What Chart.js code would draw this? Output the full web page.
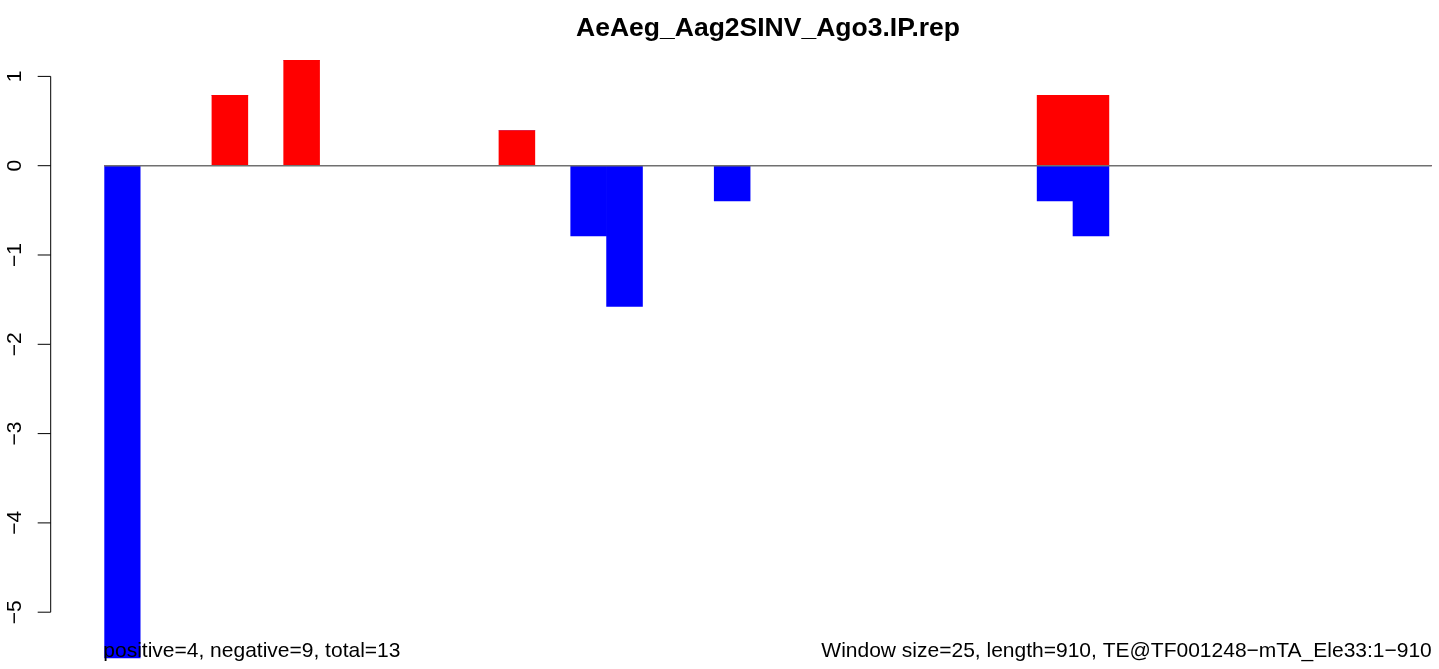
<!DOCTYPE html>
<html>
<head>
<meta charset="utf-8">
<title>AeAeg_Aag2SINV_Ago3.IP.rep</title>
<script src="https://cdn.jsdelivr.net/npm/chart.js@4/dist/chart.umd.min.js"></script>
<style>
  html, body { margin: 0; padding: 0; background: #ffffff; }
  #wrap { width: 1439px; height: 669px; position: relative; }
  canvas { display: block; }
</style>
</head>
<body>
<div id="wrap"><canvas id="chart" width="1439" height="669"></canvas></div>
<script>
// Window start positions along the element (window size 25, length 910)
const windowStarts = [1, 26, 51, 76, 101, 126, 151, 176, 201, 226, 251, 276, 301, 326, 351, 376, 401, 426, 451,
                      476, 501, 526, 551, 576, 601, 626, 651, 676, 701, 726, 751, 776, 801, 826, 851, 876, 901];

// Sense-strand signal per window (red, above zero)
const senseValues = [0, 0, 0, 0.787, 0, 1.181, 0, 0, 0, 0, 0, 0.394, 0, 0, 0, 0, 0, 0, 0,
                     0, 0, 0, 0, 0, 0, 0, 0.787, 0.787, 0, 0, 0, 0, 0, 0, 0, 0, 0];

// Antisense-strand signal per window (blue, below zero)
const antisenseValues = [-5.512, 0, 0, 0, 0, 0, 0, 0, 0, 0, 0, 0, 0, -0.787, -1.575, 0, 0, -0.394, 0,
                         0, 0, 0, 0, 0, 0, 0, -0.394, -0.787, 0, 0, 0, 0, 0, 0, 0, 0, 0];

// Y axis tick values
const yTickValues = [-5, -4, -3, -2, -1, 0, 1];

const titleText = 'AeAeg_Aag2SINV_Ago3.IP.rep';
const countsText = 'positive=4, negative=9, total=13';
const infoText = 'Window size=25, length=910, TE@TF001248\u2212mTA_Ele33:1\u2212910';

const FONT = '"Liberation Sans", Arial, Helvetica, sans-serif';

// Draws the R-style left axis, the zero line and the text annotations
const decorations = {
  id: 'decorations',
  afterDatasetsDraw(chart) {
    const ctx = chart.ctx;
    const y = chart.scales.y;
    const area = chart.chartArea;
    ctx.save();

    // zero reference line across the windows
    const y0 = y.getPixelForValue(0);
    ctx.strokeStyle = '#707070';
    ctx.lineWidth = 1.4;
    ctx.beginPath();
    ctx.moveTo(area.left, y0);
    ctx.lineTo(area.right, y0);
    ctx.stroke();

    // left axis line and ticks
    const axisX = 50.7;
    const vals = y.ticks.map(t => t.value);
    const top = y.getPixelForValue(Math.max(...vals));
    const bot = y.getPixelForValue(Math.min(...vals));
    ctx.strokeStyle = '#000000';
    ctx.lineWidth = 1;
    ctx.beginPath();
    ctx.moveTo(axisX, top);
    ctx.lineTo(axisX, bot);
    y.ticks.forEach(t => {
      const py = y.getPixelForValue(t.value);
      ctx.moveTo(axisX - 13, py);
      ctx.lineTo(axisX, py);
    });
    ctx.stroke();

    // rotated tick labels
    ctx.fillStyle = '#000000';
    ctx.font = '21px ' + FONT;
    ctx.textAlign = 'center';
    ctx.textBaseline = 'alphabetic';
    y.ticks.forEach(t => {
      const py = y.getPixelForValue(t.value);
      const label = t.value < 0 ? '\u2212' + Math.abs(t.value) : String(t.value);
      ctx.save();
      ctx.translate(20.8, py);
      ctx.rotate(-Math.PI / 2);
      ctx.fillText(label, 0, 0);
      ctx.restore();
    });

    // title
    ctx.font = 'bold 26.5px ' + FONT;
    ctx.textAlign = 'center';
    ctx.fillText(titleText, (area.left + area.right) / 2, 35.5);

    // bottom annotations
    ctx.font = '21px ' + FONT;
    ctx.textAlign = 'left';
    ctx.fillText(countsText, area.left - 1, 657.3);
    ctx.textAlign = 'right';
    ctx.fillText(infoText, area.right, 657.3);

    ctx.restore();
  }
};

new Chart(document.getElementById('chart'), {
  type: 'bar',
  data: {
    labels: windowStarts,
    datasets: [
      {
        label: 'sense',
        data: senseValues,
        backgroundColor: '#ff0000',
        borderWidth: 0,
        barPercentage: 1,
        categoryPercentage: 1
      },
      {
        label: 'antisense',
        data: antisenseValues,
        backgroundColor: '#0000ff',
        borderWidth: 0,
        barPercentage: 1,
        categoryPercentage: 1
      }
    ]
  },
  options: {
    responsive: false,
    animation: false,
    devicePixelRatio: 1,
    layout: { padding: { left: 104.3, right: 7.2, top: 36, bottom: 3 } },
    plugins: {
      legend: { display: false },
      tooltip: { enabled: false },
      title: { display: false }
    },
    scales: {
      x: {
        type: 'category',
        stacked: true,
        display: false,
        offset: true,
        grid: { display: false }
      },
      y: {
        stacked: true,
        display: false,
        min: -5.6025,
        max: 1.4524,
        afterBuildTicks(scale) {
          scale.ticks = yTickValues.map(v => ({ value: v }));
        }
      }
    }
  },
  plugins: [decorations]
});
</script>
</body>
</html>
